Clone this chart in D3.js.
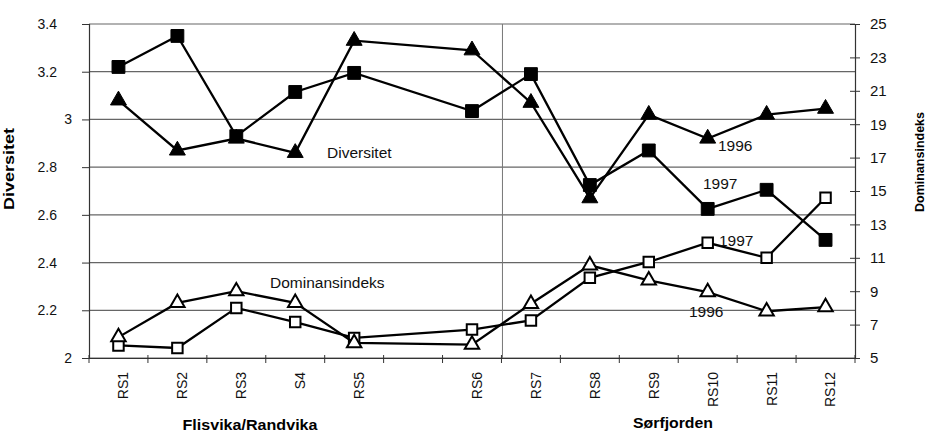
<!DOCTYPE html>
<html>
<head>
<meta charset="utf-8">
<script src="https://cdn.jsdelivr.net/npm/d3@7"></script>
<style>
	body { margin: 0; background: #fff; }
	svg { font-family: "Liberation Sans", Arial, sans-serif; }
</style>
</head>
<body>
<div class="chart"></div>
<script>
	// stations (one empty slot between RS5 and RS6)
	var stations = ["RS1", "RS2", "RS3", "S4", "RS5", "", "RS6", "RS7", "RS8", "RS9", "RS10", "RS11", "RS12"];
	var div1997 = [3.22, 3.35, 2.93, 3.115, 3.195, null, 3.035, 3.19, 2.725, 2.87, 2.625, 2.705, 2.495];
	var div1996 = [3.08, 2.87, 2.92, 2.86, 3.33, null, 3.29, 3.07, 2.67, 3.02, 2.92, 3.02, 3.045];
	var dom1997 = [5.75, 5.6, 8.0, 7.15, 6.2, null, 6.7, 7.25, 9.8, 10.75, 11.9, 11.0, 14.6];
	var dom1996 = [6.25, 8.3, 9.0, 8.3, 5.9, null, 5.8, 8.25, 10.55, 9.65, 8.95, 7.8, 8.05];
	var leftTicks = [2, 2.2, 2.4, 2.6, 2.8, 3, 3.2, 3.4];
	var rightTicks = [5, 7, 9, 11, 13, 15, 17, 19, 21, 23, 25];

	var svg_w = 928, svg_h = 434;
	var svg = d3.select("div.chart").append("svg")
		.attr("width", svg_w)
		.attr("height", svg_h);

	var pLeft = 89, pRight = 855, pTop = 24, pBottom = 358;

	var x = d3.scaleBand()
		.domain(d3.range(stations.length))
		.range([pLeft, pRight])
		.padding(0);
	var yL = d3.scaleLinear().domain([2, 3.4]).range([pBottom, pTop]);
	var yR = d3.scaleLinear().domain([5, 25]).range([pBottom, pTop]);

	function cx(i) { return x(i) + x.bandwidth() / 2; }

	// gridlines
	svg.append("g").selectAll("line")
		.data(leftTicks)
		.enter()
		.append("line")
		.attr("x1", pLeft).attr("x2", pRight)
		.attr("y1", function(d) { return yL(d); })
		.attr("y2", function(d) { return yL(d); })
		.attr("stroke", "#666")
		.attr("stroke-width", 1.2);

	// divider between the two areas
	svg.append("line")
		.attr("x1", x(7) + 1).attr("x2", x(7) + 1)
		.attr("y1", pTop).attr("y2", pBottom)
		.attr("stroke", "#777")
		.attr("stroke-width", 1);

	// left axis
	var axL = svg.append("g")
		.attr("transform", "translate(" + pLeft + ",0)")
		.call(d3.axisLeft(yL).tickValues(leftTicks).tickSize(7)
			.tickFormat(function(d) { return d3.format("")(+d.toFixed(1)); }));
	axL.selectAll(".tick text")
		.attr("x", function(d) { return Number.isInteger(d) ? -17 : -32; });

	// right axis
	var axR = svg.append("g")
		.attr("transform", "translate(" + pRight + ",0)")
		.call(d3.axisRight(yR).tickValues(rightTicks).tickSize(5).tickPadding(10));
	axR.selectAll(".tick line").attr("x1", -5);

	// bottom axis, ticks on band edges
	var axB = svg.append("g")
		.attr("transform", "translate(0," + pBottom + ")")
		.call(d3.axisBottom(x).tickSize(0).tickFormat(function(i) { return stations[i]; }));
	axB.selectAll(".tick text")
		.attr("transform", "rotate(-90)")
		.attr("text-anchor", "end")
		.attr("dy", "0.35em")
		.attr("x", -14)
		.attr("y", 5);
	axB.append("g").selectAll("line")
		.data(d3.range(stations.length + 1))
		.enter()
		.append("line")
		.attr("x1", function(i) { return pLeft + i * x.bandwidth(); })
		.attr("x2", function(i) { return pLeft + i * x.bandwidth(); })
		.attr("y1", -3).attr("y2", 5)
		.attr("stroke", "#333");

	[axL, axR, axB].forEach(function(a) {
		a.select(".domain").attr("stroke", "#333").attr("stroke-width", 1.2);
		a.selectAll(".tick line").attr("stroke", "#333");
		a.selectAll(".tick text").attr("fill", "#111").attr("font-size", "14px");
	});
	axR.selectAll(".tick text").attr("font-size", "15px");

	// series
	var series = [
		{ vals: div1997, y: yL, shape: d3.symbolSquare, size: 165, fill: "#000" },
		{ vals: div1996, y: yL, shape: d3.symbolTriangle, size: 110, fill: "#000" },
		{ vals: dom1997, y: yR, shape: d3.symbolSquare, size: 110, fill: "#fff" },
		{ vals: dom1996, y: yR, shape: d3.symbolTriangle, size: 90, fill: "#fff" }
	];

	series.forEach(function(s) {
		var pts = [];
		s.vals.forEach(function(v, i) {
			if (v != null) pts.push([cx(i), s.y(v)]);
		});
		svg.append("path")
			.attr("d", d3.line()(pts))
			.attr("fill", "none")
			.attr("stroke", "#000")
			.attr("stroke-width", 2.3);
		svg.append("g").selectAll("path")
			.data(pts)
			.enter()
			.append("path")
			.attr("d", d3.symbol().type(s.shape).size(s.size))
			.attr("transform", function(p) { return "translate(" + p[0] + "," + p[1] + ")"; })
			.attr("fill", s.fill)
			.attr("stroke", "#000")
			.attr("stroke-width", s.fill == "#fff" ? 2 : 1);
	});

	// annotations
	var notes = [
		{ t: "Diversitet", x: 327, y: 158 },
		{ t: "Dominansindeks", x: 270, y: 288 },
		{ t: "1996", x: 718, y: 151 },
		{ t: "1997", x: 703, y: 189 },
		{ t: "1997", x: 719, y: 246 },
		{ t: "1996", x: 689, y: 317 }
	];
	svg.append("g").selectAll("text")
		.data(notes)
		.enter()
		.append("text")
		.attr("x", function(d) { return d.x; })
		.attr("y", function(d) { return d.y; })
		.attr("font-size", "15.5px")
		.attr("fill", "#111")
		.text(function(d) { return d.t; });

	// axis titles
	svg.append("text")
		.attr("transform", "translate(14,169) rotate(-90)")
		.attr("text-anchor", "middle")
		.attr("font-size", "14px")
		.attr("font-weight", "bold")
		.attr("textLength", 82)
		.attr("lengthAdjust", "spacingAndGlyphs")
		.text("Diversitet");
	svg.append("text")
		.attr("transform", "translate(924,162) rotate(-90)")
		.attr("text-anchor", "middle")
		.attr("font-size", "13px")
		.attr("font-weight", "bold")
		.attr("textLength", 100)
		.attr("lengthAdjust", "spacingAndGlyphs")
		.text("Dominansindeks");
	svg.append("text")
		.attr("x", 250).attr("y", 430)
		.attr("text-anchor", "middle")
		.attr("font-size", "15px")
		.attr("font-weight", "bold")
		.attr("textLength", 135)
		.attr("lengthAdjust", "spacingAndGlyphs")
		.text("Flisvika/Randvika");
	svg.append("text")
		.attr("x", 673).attr("y", 428)
		.attr("text-anchor", "middle")
		.attr("font-size", "15px")
		.attr("font-weight", "bold")
		.attr("textLength", 80)
		.attr("lengthAdjust", "spacingAndGlyphs")
		.text("Sørfjorden");
</script>
</body>
</html>
